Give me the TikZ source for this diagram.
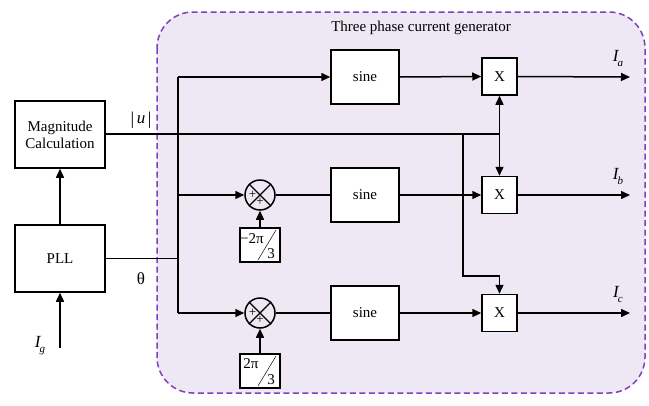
\documentclass[tikz,border=0pt]{standalone}
\usepackage{fontspec}
\setmainfont{Liberation Serif}
\usetikzlibrary{arrows.meta}
\definecolor{gfill}{HTML}{EEE8F4}
\definecolor{gdash}{HTML}{7F3FBF}
\newcommand{\cursub}[2]{{\fontsize{17}{17}\selectfont\itshape #1}\kern-1pt\raisebox{-5pt}{\fontsize{11}{11}\selectfont\itshape #2}}
\begin{document}
\begin{tikzpicture}[x=1pt,y=-1pt,
  every node/.style={font=\fontsize{15}{17}\selectfont},
  blk/.style={draw,line width=1.5pt,fill=white,inner sep=0pt},
  ln/.style={line width=1.5pt},
  arr/.style={line width=1.5pt,-{Triangle[length=9pt,width=8pt]}},
  dotj/.style={fill,circle,inner sep=0pt,minimum size=3.5pt}]
\useasboundingbox[fill=white] (0,0) rectangle (649,405);
\path[fill=gfill,draw=gdash,line width=1.5pt,dash pattern=on 6pt off 3.5pt,rounded corners=36pt] (157,12) rectangle (645,393);
\node (title) at (421,28) {Three phase current generator};
% left blocks
\node[blk,minimum width=90pt,minimum height=67pt,align=center] (mag) at (60,134.5) {Magnitude\\Calculation};
\node[blk,minimum width=90pt,minimum height=67pt] (pll) at (60,258.5) {PLL};
\coordinate (ig) at (60,348);
\node (iglab) at (40,346) {\cursub{I}{g}};
\node (ulab) at (141,120) {\raisebox{-1pt}{\fontsize{18}{18}\selectfont|}\,{\fontsize{17}{17}\selectfont\itshape u}\,\raisebox{-1pt}{\fontsize{18}{18}\selectfont|}};
\node (thlab) at (141,279) {\fontsize{17}{17}\selectfont θ};
% sine blocks
\node[blk,minimum width=68pt,minimum height=54pt] (s1) at (365,77) {sine};
\node[blk,minimum width=68pt,minimum height=54pt] (s2) at (365,195) {sine};
\node[blk,minimum width=68pt,minimum height=54pt] (s3) at (365,313) {sine};
% multipliers
\node[blk,minimum width=35pt,minimum height=37pt] (x1) at (499.5,76.5) {X};
\node[blk,minimum width=35pt,minimum height=37pt] (x2) at (499.5,195) {X};
\node[blk,minimum width=35pt,minimum height=37pt] (x3) at (499.5,313) {X};
% summing junctions
\node[draw,circle,line width=1.5pt,minimum size=30pt,inner sep=0pt] (sum1) at (260,195) {};
\node[draw,circle,line width=1.5pt,minimum size=30pt,inner sep=0pt] (sum2) at (260,313) {};
\foreach \s in {sum1,sum2}{
  \draw[line width=1.2pt] (\s.45) -- (\s.225) (\s.135) -- (\s.315);
  \node[font=\fontsize{13}{13}\selectfont,inner sep=0pt] at ([xshift=-7.5pt]\s.center) {+};
  \node[font=\fontsize{13}{13}\selectfont,inner sep=0pt] at ([yshift=-7pt]\s.center) {+};
}
% constant boxes
\node[blk,minimum width=40pt,minimum height=34pt] (c1) at (260,245) {};
\node[inner sep=0pt] (c1a) at (252,238.5) {−2π};
\node[inner sep=0pt] (c1b) at (271,254) {3};
\draw[line width=0.5pt] ([shift={(-2,15)}]c1.center) -- ([shift={(16,-15)}]c1.center);
\node[blk,minimum width=40pt,minimum height=34pt] (c2) at (260,371) {};
\node[inner sep=0pt] (c2a) at (251,364) {2π};
\node[inner sep=0pt] (c2b) at (271,380) {3};
\draw[line width=0.5pt] ([shift={(-2,15)}]c2.center) -- ([shift={(16,-15)}]c2.center);
% outputs
\coordinate (oa) at (630,77);
\coordinate (ob) at (630,195);
\coordinate (oc) at (630,313);
\node (la) at (618,58) {\cursub{I}{a}};
\node (lb) at (618,176) {\cursub{I}{b}};
\node (lc) at (618,294) {\cursub{I}{c}};
% junction coordinates
\coordinate (tt) at (178,77);
\coordinate (tm) at (178,195);
\coordinate (tb) at (178,313);
\coordinate (tj) at (178,258.5);
\coordinate (uj) at (499.5,134);
\coordinate (ub) at (463,134);
\coordinate (ud) at (463,276);
% connectors
\draw[arr] (ig) -- (pll.south);
\draw[arr] (pll.north) -- (mag.south);
\draw[ln] (pll.east) -- (tj);
\draw[ln] (tt) -- (tb);
\draw[arr] (tt) -- (s1.west);
\draw[arr] (tm) -- (sum1.west);
\draw[arr] (tb) -- (sum2.west);
\draw[ln] (sum1.east) -- (s2.west);
\draw[ln] (sum2.east) -- (s3.west);
\draw[arr] (c1.north) -- (sum1.south);
\draw[arr] (c2.north) -- (sum2.south);
\draw[arr] (s1.east) -- (x1.west);
\draw[arr] (s2.east) -- (x2.west);
\draw[arr] (s3.east) -- (x3.west);
\draw[ln] (mag.east |- uj) -- (uj);
\draw[arr] (uj) -- (x1.south);
\draw[arr] (uj) -- (x2.north);
\draw[arr] (ub) -- (ud) -| (x3.north);
\draw[arr] (x1.east) -- (oa);
\draw[arr] (x2.east) -- (ob);
\draw[arr] (x3.east) -- (oc);
\node[dotj] at (178,134) {};
\node[dotj] at (463,195) {};
\end{tikzpicture}
\end{document}
